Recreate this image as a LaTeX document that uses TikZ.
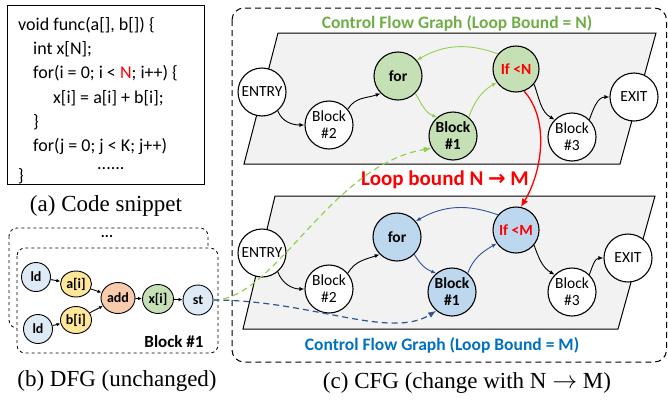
\documentclass[tikz,border=0pt]{standalone}
\usepackage{fontspec}
\setmainfont{Liberation Serif}
\setsansfont{Carlito}
\newfontfamily\arrowfont{DejaVu Sans}
\usetikzlibrary{positioning,arrows.meta,calc,shapes.geometric}

\definecolor{nodegreen}{HTML}{C5E0B4}
\definecolor{nodeblue}{HTML}{BDD7EE}
\definecolor{ldblue}{HTML}{DEEBF7}
\definecolor{memyellow}{HTML}{FFE699}
\definecolor{addorange}{HTML}{F8CBAD}
\definecolor{edgegreen}{HTML}{92D050}
\definecolor{edgeblue}{HTML}{2F5597}
\definecolor{titlegreen}{HTML}{70AD47}
\definecolor{titleblue}{HTML}{0070C0}
\definecolor{planegray}{HTML}{F2F2F2}

\tikzset{
  cfgnode/.style={draw, circle, line width=1.1pt, minimum size=48pt, inner sep=0pt, align=center, fill=white, font=\sffamily\fontsize{15.5}{17}\selectfont},
  boldcfg/.style={cfgnode, font=\sffamily\bfseries\fontsize{15.5}{17}\selectfont},
  dfgnode/.style={draw, ellipse, line width=0.9pt, minimum width=29pt, minimum height=29pt, inner sep=0pt, font=\sffamily\bfseries\fontsize{14}{14}\selectfont},
  plane/.style={draw, line width=1pt, fill=planegray},
  cfedge/.style={line width=0.9pt, -{Latex[length=5pt,width=4pt]}},
  dfedge/.style={line width=0.9pt, -{Latex[length=4pt,width=3.5pt]}},
  caption/.style={font=\rmfamily\fontsize{23}{25}\selectfont},
  cfgtitle/.style={font=\sffamily\bfseries\fontsize{17.5}{17.5}\selectfont}
}

\begin{document}
\begin{tikzpicture}[x=1pt, y=-1pt]
\useasboundingbox (0,0) rectangle (668,399);

% (a) code snippet
\draw[line width=1pt] (7,5) rectangle (204,184);
\node[anchor=north west, inner sep=0pt, align=left, font=\sffamily\fontsize{18}{24.3}\selectfont] (code) at (18,17) {%
void func(a[], b[]) \{\\
\hspace*{15pt}int x[N];\\
\hspace*{15pt}for(i = 0; i < {\color{red}N}; i++) \{\\
\hspace*{35pt}x[i] = a[i] + b[i];\\
\hspace*{15pt}\}\\
\hspace*{15pt}for(j = 0; j < K; j++)\\[-7pt]
\hspace*{79pt}......\\[-12pt]
\}};
\node[caption] (capa) at (106,206) {(a) Code snippet};

% (b) DFG
\draw[dashed, line width=0.8pt, rounded corners=8, fill=white] (9,228) rectangle (208,328);
\draw[dashed, line width=0.8pt, rounded corners=8, fill=white] (17,248) rectangle (218,353);
\node[font=\sffamily\bfseries\fontsize{15}{15}\selectfont] (dots) at (107,236) {...};
\node[dfgnode, fill=ldblue] (ld1) at (36,277) {ld};
\node[dfgnode, fill=ldblue] (ld2) at (38,329) {ld};
\node[dfgnode, fill=memyellow, minimum width=31pt, minimum height=26pt] (ai) at (76,284) {a[i]};
\node[dfgnode, fill=memyellow, minimum width=31pt, minimum height=27pt] (bi) at (76,320) {b[i]};
\node[dfgnode, fill=addorange, minimum width=34pt, minimum height=31pt] (add) at (118,298) {add};
\node[dfgnode, fill=nodegreen, minimum width=31pt, minimum height=29pt] (xi) at (158,299) {x[i]};
\node[dfgnode, fill=ldblue, minimum width=30pt, minimum height=30pt] (st) at (198,300) {st};
\node[font=\sffamily\bfseries\fontsize{17}{17}\selectfont] (blk) at (174,342) {Block \#1};
\draw[dfedge] (ld1) -- (ai);
\draw[dfedge] (ld2) -- (bi);
\draw[dfedge] (ai) -- (add);
\draw[dfedge] (bi) -- (add);
\draw[dfedge] (add) -- (xi);
\draw[dfedge] (xi) -- (st);
\node[caption] (capb) at (117,381) {(b) DFG (unchanged)};

% (c) CFG
\draw[dash pattern=on 6pt off 4pt, line width=1pt, rounded corners=12] (232,8) rectangle (666.5,362);
\node[cfgtitle, text=titlegreen] (titleN) at (457,23) {Control Flow Graph (Loop Bound = N)};
\draw[plane] (278,33) -- (656,33) -- (620,164) -- (244,164) -- cycle;
\draw[plane] (275,196) -- (655,196) -- (618,329) -- (243,329) -- cycle;

% loop bound N
\node[cfgnode] (entryN) at (262,92) {ENTRY};
\node[cfgnode] (b2N) at (329,125) {Block\\\#2};
\node[boldcfg, fill=nodegreen] (forN) at (398,76) {for};
\node[boldcfg, fill=nodegreen] (b1N) at (453,136) {Block\\\#1};
\node[boldcfg, fill=nodegreen, minimum size=46pt, text=red] (ifN) at (516,69) {If <N};
\node[cfgnode] (b3N) at (572,137) {Block\\\#3};
\node[cfgnode] (exitN) at (634,97) {EXIT};
\draw[cfedge] (entryN.-50) to[out=-70, in=180] (b2N.west);
\draw[cfedge] (b2N.40) to[out=60, in=200] (forN.-135);
\draw[cfedge, edgegreen] (forN.-45) to[out=-60, in=160] (b1N.130);
\draw[cfedge, edgegreen] (b1N.50) to[out=70, in=210] (ifN.-145);
\draw[cfedge, edgegreen] (ifN.140) to[out=160, in=30] (forN.40);
\draw[cfedge] (ifN.-40) to[out=-70, in=150] (b3N.135);
\draw[cfedge] (b3N.45) to[out=70, in=180] (exitN.west);

% loop bound M
\node[cfgnode] (entryM) at (262,253) {ENTRY};
\node[cfgnode] (b2M) at (329,289) {Block\\\#2};
\node[boldcfg, fill=nodeblue] (forM) at (397,237) {for};
\node[boldcfg, fill=nodeblue] (b1M) at (452,292) {Block\\\#1};
\node[boldcfg, fill=nodeblue, minimum size=46pt, text=red] (ifM) at (516,230) {If <M};
\node[cfgnode] (b3M) at (572,292) {Block\\\#3};
\node[cfgnode] (exitM) at (628,258) {EXIT};
\draw[cfedge] (entryM.-50) to[out=-70, in=180] (b2M.west);
\draw[cfedge] (b2M.40) to[out=60, in=200] (forM.-135);
\draw[cfedge, edgeblue] (forM.-45) to[out=-60, in=160] (b1M.130);
\draw[cfedge, edgeblue] (b1M.50) to[out=70, in=210] (ifM.-145);
\draw[cfedge, edgeblue] (ifM.140) to[out=160, in=30] (forM.40);
\draw[cfedge] (ifM.-40) to[out=-70, in=150] (b3M.135);
\draw[cfedge] (b3M.45) to[out=70, in=180] (exitM.west);
\node[cfgtitle, text=titleblue] (titleM) at (442,345) {Control Flow Graph (Loop Bound = M)};

% change of the loop bound
\node[text=red, font=\sffamily\bfseries\fontsize{21}{21}\selectfont] (change) at (445,180) {Loop bound N {\arrowfont\bfseries→} M};
\draw[red, line width=1.3pt, -{Latex[length=8pt,width=7pt]}] (ifN.-70) .. controls (550,120) and (542,172) .. (ifM.78);

% DFG block mapped to both CFGs
\draw[edgegreen, line width=1.2pt, dash pattern=on 6pt off 4pt, -{Latex[length=8pt,width=6pt]}] (st.east) .. controls (275,300) and (330,165) .. (b1N.210);
\draw[edgeblue, line width=1.2pt, dash pattern=on 6pt off 4pt, -{Latex[length=8pt,width=6pt]}] (st.east) .. controls (310,300) and (390,340) .. (b1M.230);

\node[caption] (capc) at (467,383) {(c) CFG (change with N $\rightarrow$ M)};
\end{tikzpicture}
\end{document}
